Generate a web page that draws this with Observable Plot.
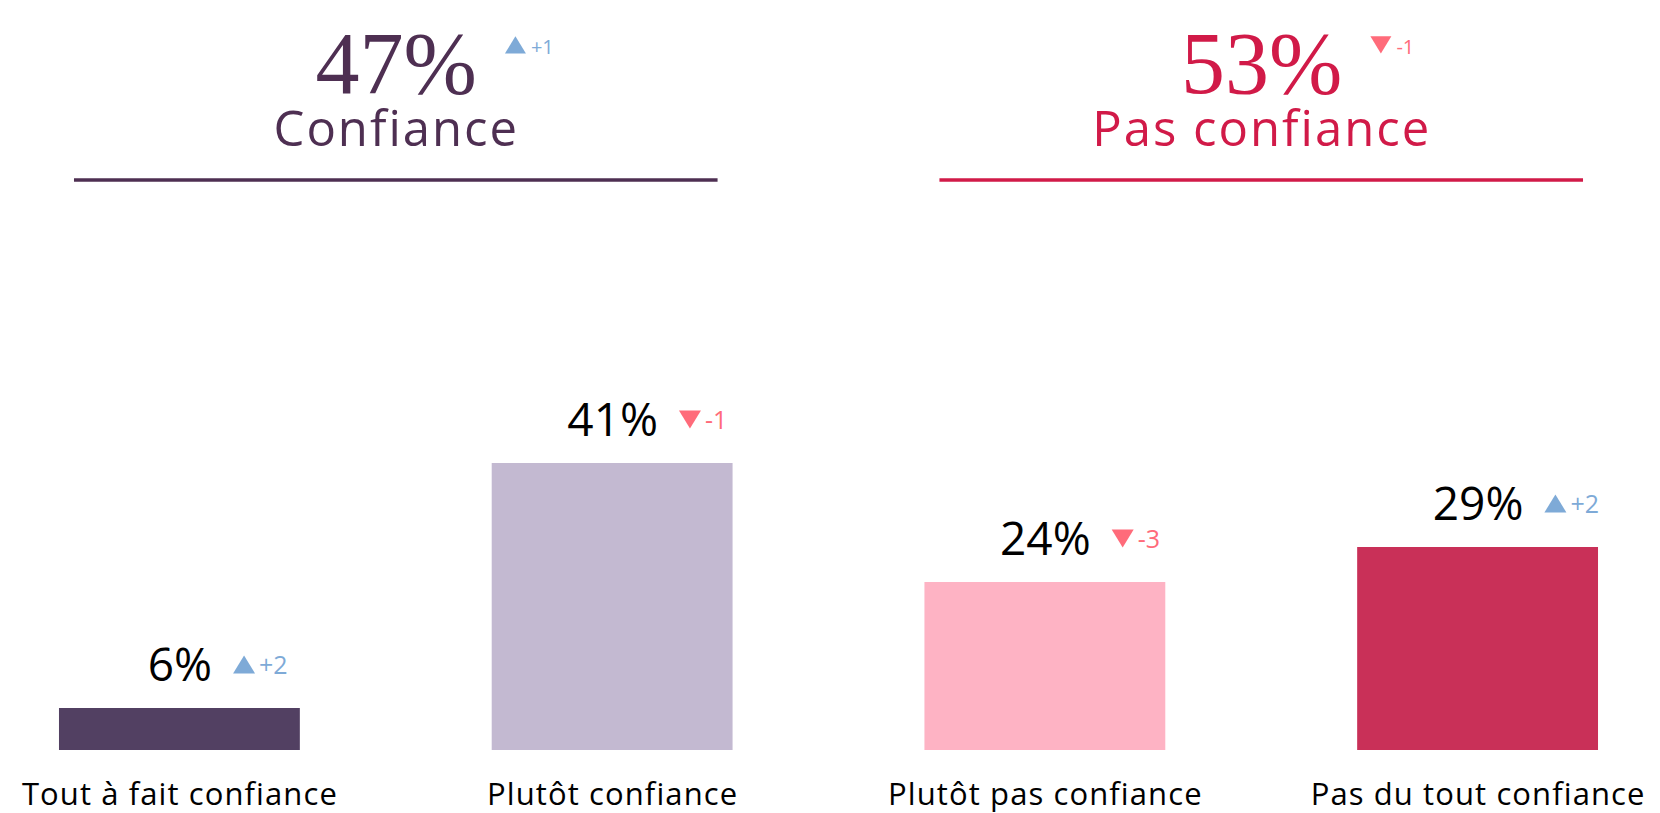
<!DOCTYPE html>
<html><head><meta charset="utf-8">
<script src="https://cdn.jsdelivr.net/npm/d3@7"></script>
<script src="https://cdn.jsdelivr.net/npm/@observablehq/plot@0.6"></script>
<style>html,body{margin:0;padding:0;background:#fff;overflow:hidden}</style>
</head><body><div id="chart"></div>
<script>
// ---- data ----
const categories = ["Tout à fait confiance", "Plutôt confiance", "Plutôt pas confiance", "Pas du tout confiance"];
const values = [6, 41, 24, 29];
const changes = [2, -1, -3, 2];
const barColors = ["#524062", "#c3b9d1", "#feb3c4", "#c93058"];
const groupNames = ["Confiance", "Pas confiance"];
const groupTotals = [47, 53];
const groupChanges = [1, -1];
const groupFirst = ["Tout à fait confiance", "Plutôt pas confiance"];
const groupLast = ["Plutôt confiance", "Pas du tout confiance"];
const groupColors = ["#4e2f52", "#d11a48"];
const upColor = "#7eaad7", downColor = "#ff6b7a";

// ---- layout ----
const W = 1660, H = 813, mL = 0, mR = 3, mB = 63;
const padIn = 0.4434, padOut = 0.1363;
const SANS = "'Open Sans', sans-serif";
const SERIF = "'Liberation Serif', serif";
const headSize = 88;

const rows = categories.map((c, i) => ({cat: c, value: values[i], change: changes[i], color: barColors[i]}));
const groups = groupNames.map((n, i) => ({name: n, total: groupTotals[i], change: groupChanges[i], first: groupFirst[i], last: groupLast[i], color: groupColors[i]}));

const band = d3.scaleBand().domain(categories).range([mL, W - mR]).paddingInner(padIn).paddingOuter(padOut);
const step = band.step();

const ctx = document.createElement("canvas").getContext("2d");
function tw(s, font) { ctx.font = font; return ctx.measureText(s).width; }
const fmtChange = v => (v > 0 ? "+" : "-") + Math.abs(v);

// triangle symbols anchored on their baseline
const triUp = {draw(c, size) { const w = 2 * Math.sqrt(size / Math.PI), h = 0.82 * w; c.moveTo(-w / 2, 0); c.lineTo(w / 2, 0); c.lineTo(0, -h); c.closePath(); }};
const triDown = {draw(c, size) { const w = 2 * Math.sqrt(size / Math.PI), h = 0.82 * w; c.moveTo(-w / 2, -h); c.lineTo(w / 2, -h); c.lineTo(0, 0); c.closePath(); }};

const marks = [];
marks.push(Plot.barY(rows, {x: "cat", y: "value", fill: "color"}));
marks.push(Plot.text(rows, {x: "cat", y: "value", text: d => d.value + "%", dy: -28, lineAnchor: "bottom", fontSize: 46, fontFamily: SANS, fill: "#000"}));

rows.forEach(r => {
  const vw = tw(r.value + "%", `46px ${SANS}`);
  const col = r.change >= 0 ? upColor : downColor;
  marks.push(Plot.dot([r], {x: "cat", y: "value", symbol: r.change >= 0 ? triUp : triDown, r: 11, fill: col, stroke: "none", dx: vw / 2 + 21 + 11, dy: -35}));
  marks.push(Plot.text([r], {x: "cat", y: "value", text: d => fmtChange(d.change), dx: vw / 2 + 21 + 26, dy: -35, textAnchor: "start", lineAnchor: "bottom", fontSize: 25, fontFamily: SANS, fill: col}));
});

groups.forEach(g => {
  const hw = tw(g.total + "%", `${headSize}px ${SERIF}`);
  const col = g.change >= 0 ? upColor : downColor;
  marks.push(Plot.text([g], {x: "first", frameAnchor: "top", dx: step / 2, dy: 92, lineAnchor: "bottom", text: d => d.total + "%", fontFamily: SERIF, fontSize: headSize, fill: g.color}));
  marks.push(Plot.dot([g], {x: "first", frameAnchor: "top", symbol: g.change >= 0 ? triUp : triDown, r: 10.5, fill: col, stroke: "none", dx: step / 2 + hw / 2 + 28 + 10.5, dy: 53}));
  marks.push(Plot.text([g], {x: "first", frameAnchor: "top", text: d => fmtChange(d.change), dx: step / 2 + hw / 2 + 28 + 26, dy: 53, textAnchor: "start", lineAnchor: "bottom", fontSize: 20, fontFamily: SANS, fill: col}));
  marks.push(Plot.text([g], {x: "first", frameAnchor: "top", dx: step / 2, dy: 145, lineAnchor: "bottom", text: "name", fontFamily: SANS, fontSize: 49, fill: g.color}));
  marks.push(Plot.ruleY([g], {x1: "first", x2: "last", y: 0, dy: -570.5, stroke: g.color, strokeWidth: 3.5, insetLeft: 15, insetRight: 15}));
});

const chart = Plot.plot({
  width: W, height: H,
  marginLeft: mL, marginRight: mR, marginTop: 0, marginBottom: mB,
  style: {fontFamily: SANS, fontSize: "31px", color: "#000", background: "#fff"},
  x: {domain: categories, paddingInner: padIn, paddingOuter: padOut, round: false, tickSize: 0, tickPadding: 32, label: null},
  y: {domain: [0, 41], range: [H - mB, H - mB - 41 * 7], axis: null},
  color: {type: "identity"},
  marks
});
// letter spacing to approximate the wider reference typeface
d3.select(chart).selectAll("text").each(function () {
  const t = this.textContent;
  if (groupNames.includes(t)) d3.select(this).attr("letter-spacing", "2px");
  else if (categories.includes(t)) d3.select(this).attr("letter-spacing", "1.1px");
});
d3.select(chart).selectAll("tspan").each(function () {
  if (categories.includes(this.textContent)) d3.select(this.parentNode).attr("letter-spacing", "1.1px");
});
document.getElementById("chart").appendChild(chart);
</script>
</body></html>
